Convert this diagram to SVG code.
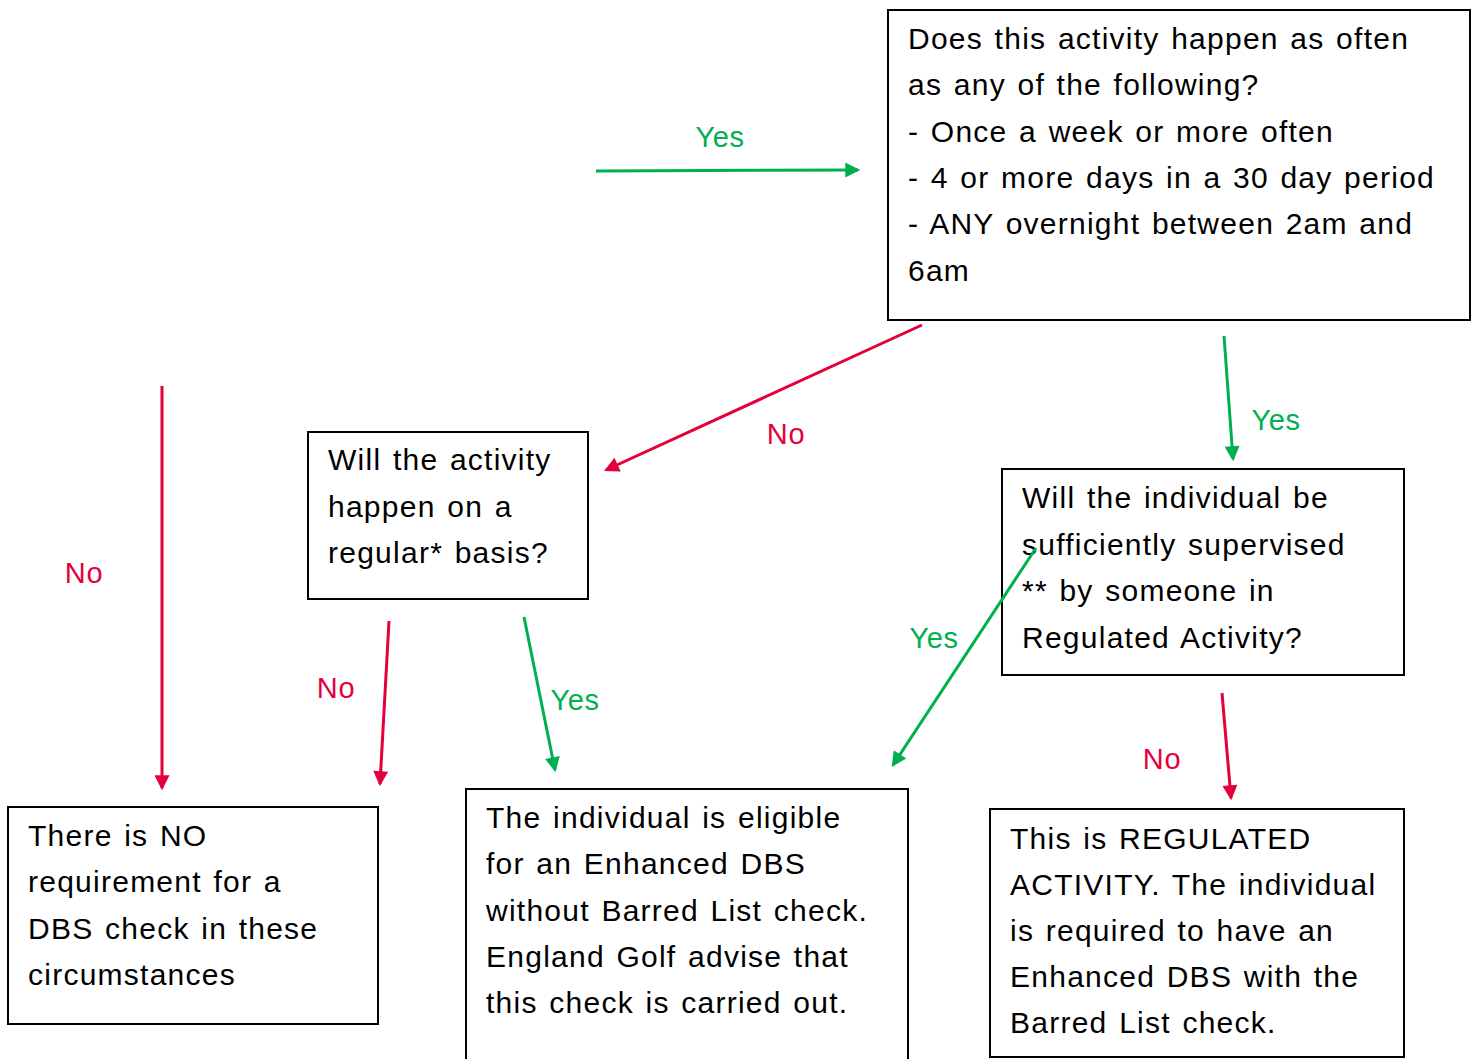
<svg xmlns="http://www.w3.org/2000/svg" width="1480" height="1059" viewBox="0 0 1480 1059">
<style>
.box{fill:#fff;stroke:#000;stroke-width:2}
.t{font-family:"Liberation Sans",Arial,sans-serif;font-size:30px;fill:#000;letter-spacing:1.25px;word-spacing:2px}
.lbl{font-family:"Liberation Sans",Arial,sans-serif;font-size:29px;letter-spacing:0.6px}
.g{fill:#00B050}
.r{fill:#E4003B}
.cg{stroke:#00B050;stroke-width:3;fill:none;marker-end:url(#ag)}
.cr{stroke:#E4003B;stroke-width:3;fill:none;marker-end:url(#ar)}
</style>
<defs>
<marker id="ag" viewBox="0 0 10 10" refX="8.5" refY="5" markerWidth="6" markerHeight="5" orient="auto"><path d="M0,0 L10,5 L0,10 z" fill="#00B050"/></marker>
<marker id="ar" viewBox="0 0 10 10" refX="8.5" refY="5" markerWidth="6" markerHeight="5" orient="auto"><path d="M0,0 L10,5 L0,10 z" fill="#E4003B"/></marker>
</defs>
<rect width="1480" height="1059" fill="#fff"/>
<g id="n-frequency">
<rect class="box" x="888" y="10" width="582" height="310"/>
<text class="t" x="908" y="49">Does this activity happen as often</text>
<text class="t" x="908" y="95">as any of the following?</text>
<text class="t" x="908" y="142">- Once a week or more often</text>
<text class="t" x="908" y="188">- 4 or more days in a 30 day period</text>
<text class="t" x="908" y="234">- ANY overnight between 2am and</text>
<text class="t" x="908" y="281">6am</text>
</g>
<g id="n-regular">
<rect class="box" x="308" y="432" width="280" height="167"/>
<text class="t" x="328" y="470">Will the activity</text>
<text class="t" x="328" y="517">happen on a</text>
<text class="t" x="328" y="563">regular* basis?</text>
</g>
<g id="n-supervised">
<rect class="box" x="1002" y="469" width="402" height="206"/>
<text class="t" x="1022" y="508">Will the individual be</text>
<text class="t" x="1022" y="555">sufficiently supervised</text>
<text class="t" x="1022" y="601">** by someone in</text>
<text class="t" x="1022" y="648">Regulated Activity?</text>
</g>
<g id="n-no-requirement">
<rect class="box" x="8" y="807" width="370" height="217"/>
<text class="t" x="28" y="846">There is NO</text>
<text class="t" x="28" y="892">requirement for a</text>
<text class="t" x="28" y="939">DBS check in these</text>
<text class="t" x="28" y="985">circumstances</text>
</g>
<g id="n-enhanced">
<rect class="box" x="466" y="789" width="442" height="290"/>
<text class="t" x="486" y="828">The individual is eligible</text>
<text class="t" x="486" y="874">for an Enhanced DBS</text>
<text class="t" x="486" y="921">without Barred List check.</text>
<text class="t" x="486" y="967">England Golf advise that</text>
<text class="t" x="486" y="1013">this check is carried out.</text>
</g>
<g id="n-regulated">
<rect class="box" x="990" y="809" width="414" height="248"/>
<text class="t" x="1010" y="849">This is REGULATED</text>
<text class="t" x="1010" y="895">ACTIVITY. The individual</text>
<text class="t" x="1010" y="941">is required to have an</text>
<text class="t" x="1010" y="987">Enhanced DBS with the</text>
<text class="t" x="1010" y="1033">Barred List check.</text>
</g>
<g id="connectors">
<line class="cg" x1="596" y1="171" x2="858" y2="170"/>
<line class="cr" x1="922" y1="325" x2="606" y2="470"/>
<line class="cg" x1="1224" y1="336" x2="1233" y2="459"/>
<line class="cr" x1="162" y1="386" x2="162" y2="788"/>
<line class="cr" x1="389" y1="621" x2="380" y2="784"/>
<line class="cg" x1="524" y1="617" x2="555" y2="770"/>
<line class="cg" x1="1036" y1="548" x2="893" y2="765"/>
<line class="cr" x1="1222" y1="693" x2="1231" y2="798"/>
<text class="lbl g" x="720" y="147" text-anchor="middle">Yes</text>
<text class="lbl r" x="786" y="444" text-anchor="middle">No</text>
<text class="lbl g" x="1276" y="430" text-anchor="middle">Yes</text>
<text class="lbl r" x="84" y="583" text-anchor="middle">No</text>
<text class="lbl r" x="336" y="698" text-anchor="middle">No</text>
<text class="lbl g" x="575" y="710" text-anchor="middle">Yes</text>
<text class="lbl g" x="934" y="648" text-anchor="middle">Yes</text>
<text class="lbl r" x="1162" y="769" text-anchor="middle">No</text>
</g>
</svg>
